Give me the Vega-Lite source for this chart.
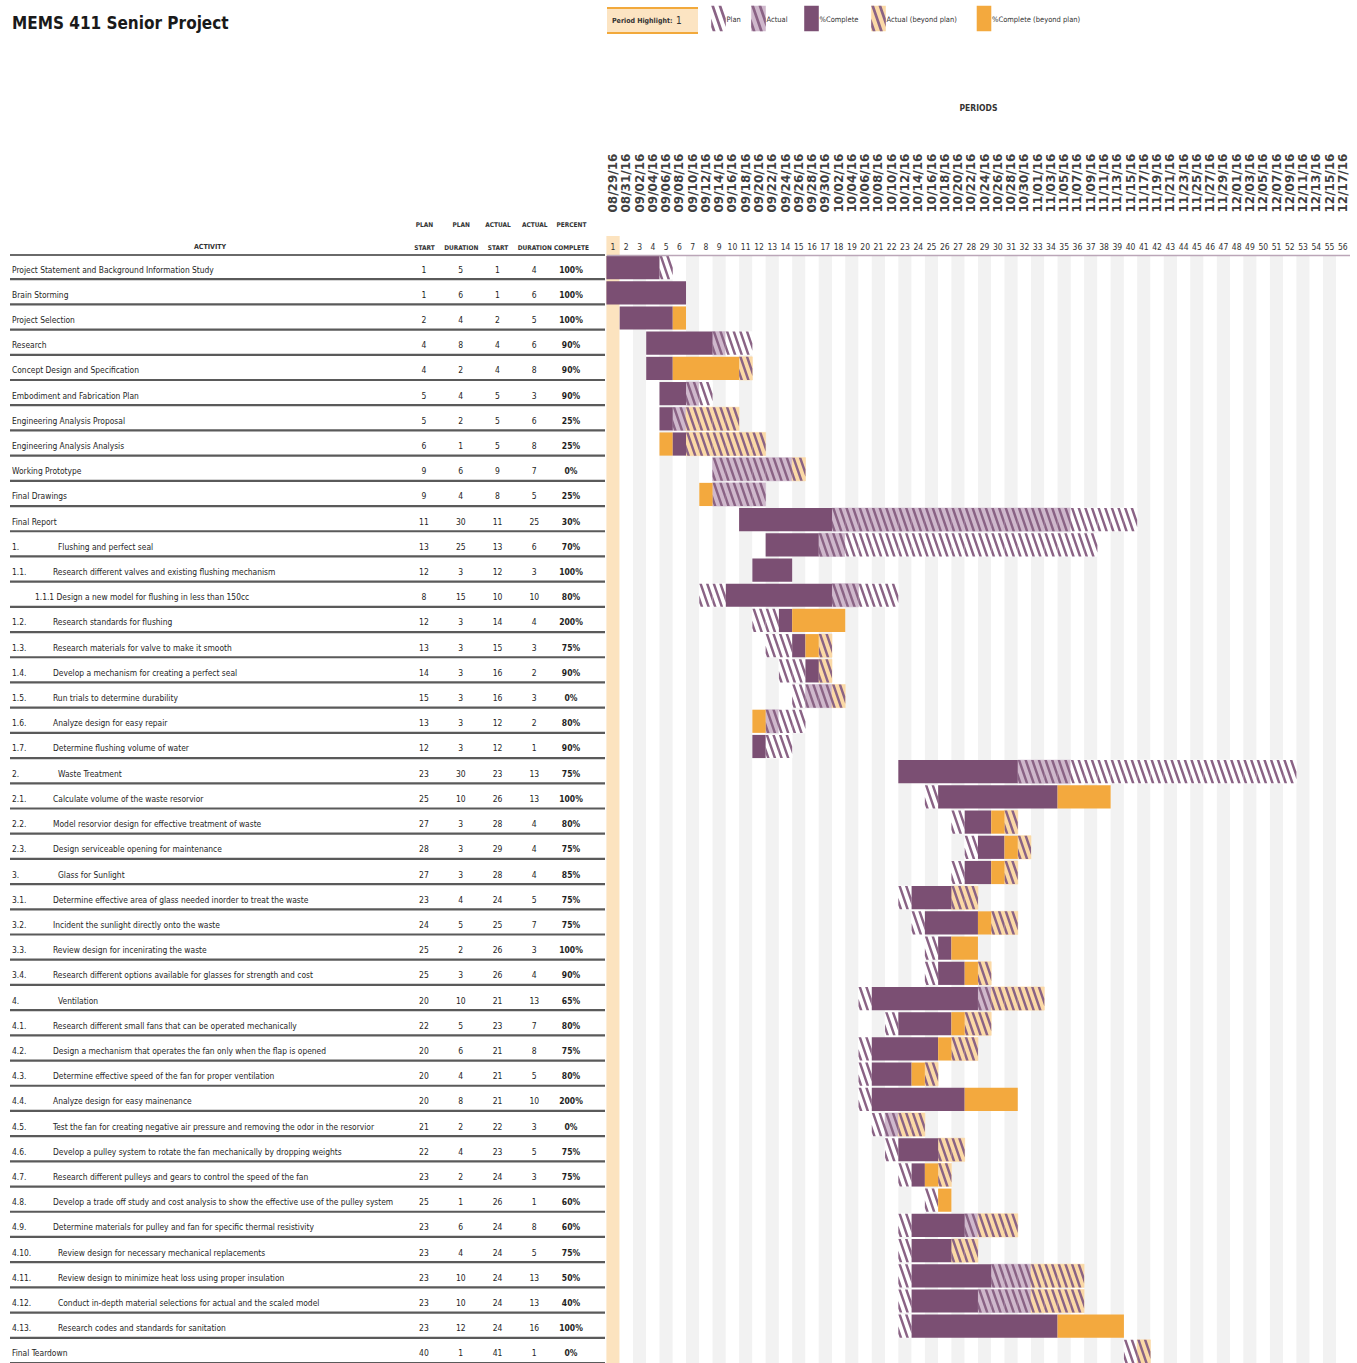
{
"$schema": "https://vega.github.io/schema/vega-lite/v6.json",
"width": 1357, "height": 1108,
"autosize": {"type": "none"},
"padding": {"top": 255, "left": 0, "right": 0, "bottom": 0},
"background": "white",
"config": {"view": {"stroke": null}},
"datasets": {
"info": [{"title": "MEMS 411 Senior Project", "hl": "Period Highlight:", "highlight": 1, "activity": "ACTIVITY"}],
"legend": [
{"o": 1, "label": "Plan", "k": "plan"},
{"o": 2, "label": "Actual", "k": "actual"},
{"o": 3, "label": "%Complete", "k": "complete"},
{"o": 4, "label": "Actual (beyond plan)", "k": "actualBeyond"},
{"o": 5, "label": "%Complete (beyond plan)", "k": "completeBeyond"}],
"periods": [
{"p":1,"date":"08/29/16"},{"p":2,"date":"08/31/16"},{"p":3,"date":"09/02/16"},{"p":4,"date":"09/04/16"},{"p":5,"date":"09/06/16"},{"p":6,"date":"09/08/16"},{"p":7,"date":"09/10/16"},{"p":8,"date":"09/12/16"},{"p":9,"date":"09/14/16"},{"p":10,"date":"09/16/16"},{"p":11,"date":"09/18/16"},{"p":12,"date":"09/20/16"},{"p":13,"date":"09/22/16"},{"p":14,"date":"09/24/16"},{"p":15,"date":"09/26/16"},{"p":16,"date":"09/28/16"},{"p":17,"date":"09/30/16"},{"p":18,"date":"10/02/16"},{"p":19,"date":"10/04/16"},{"p":20,"date":"10/06/16"},{"p":21,"date":"10/08/16"},{"p":22,"date":"10/10/16"},{"p":23,"date":"10/12/16"},{"p":24,"date":"10/14/16"},{"p":25,"date":"10/16/16"},{"p":26,"date":"10/18/16"},{"p":27,"date":"10/20/16"},{"p":28,"date":"10/22/16"},{"p":29,"date":"10/24/16"},{"p":30,"date":"10/26/16"},{"p":31,"date":"10/28/16"},{"p":32,"date":"10/30/16"},{"p":33,"date":"11/01/16"},{"p":34,"date":"11/03/16"},{"p":35,"date":"11/05/16"},{"p":36,"date":"11/07/16"},{"p":37,"date":"11/09/16"},{"p":38,"date":"11/11/16"},{"p":39,"date":"11/13/16"},{"p":40,"date":"11/15/16"},{"p":41,"date":"11/17/16"},{"p":42,"date":"11/19/16"},{"p":43,"date":"11/21/16"},{"p":44,"date":"11/23/16"},{"p":45,"date":"11/25/16"},{"p":46,"date":"11/27/16"},{"p":47,"date":"11/29/16"},{"p":48,"date":"12/01/16"},{"p":49,"date":"12/03/16"},{"p":50,"date":"12/05/16"},{"p":51,"date":"12/07/16"},{"p":52,"date":"12/09/16"},{"p":53,"date":"12/11/16"},{"p":54,"date":"12/13/16"},{"p":55,"date":"12/15/16"},{"p":56,"date":"12/17/16"}],
"tasks": [
{"i":1,"num":"","name":"Project Statement and Background Information Study","ps":1,"pd":5,"ast":1,"adur":4,"pct":1},
{"i":2,"num":"","name":"Brain Storming","ps":1,"pd":6,"ast":1,"adur":6,"pct":1},
{"i":3,"num":"","name":"Project Selection","ps":2,"pd":4,"ast":2,"adur":5,"pct":1},
{"i":4,"num":"","name":"Research","ps":4,"pd":8,"ast":4,"adur":6,"pct":0.9},
{"i":5,"num":"","name":"Concept Design and Specification","ps":4,"pd":2,"ast":4,"adur":8,"pct":0.9},
{"i":6,"num":"","name":"Embodiment and Fabrication Plan","ps":5,"pd":4,"ast":5,"adur":3,"pct":0.9},
{"i":7,"num":"","name":"Engineering Analysis Proposal","ps":5,"pd":2,"ast":5,"adur":6,"pct":0.25},
{"i":8,"num":"","name":"Engineering Analysis Analysis","ps":6,"pd":1,"ast":5,"adur":8,"pct":0.25},
{"i":9,"num":"","name":"Working Prototype","ps":9,"pd":6,"ast":9,"adur":7,"pct":0},
{"i":10,"num":"","name":"Final Drawings","ps":9,"pd":4,"ast":8,"adur":5,"pct":0.25},
{"i":11,"num":"","name":"Final Report","ps":11,"pd":30,"ast":11,"adur":25,"pct":0.3},
{"i":12,"num":"1.","name":"Flushing and perfect seal","ps":13,"pd":25,"ast":13,"adur":6,"pct":0.7},
{"i":13,"num":"1.1.","name":"Research different valves and existing flushing mechanism","ps":12,"pd":3,"ast":12,"adur":3,"pct":1},
{"i":14,"num":"","name":"1.1.1 Design a new model for flushing in less than 150cc","ps":8,"pd":15,"ast":10,"adur":10,"pct":0.8},
{"i":15,"num":"1.2.","name":"Research standards for flushing","ps":12,"pd":3,"ast":14,"adur":4,"pct":2},
{"i":16,"num":"1.3.","name":"Research materials for valve to make it smooth","ps":13,"pd":3,"ast":15,"adur":3,"pct":0.75},
{"i":17,"num":"1.4.","name":"Develop a mechanism for creating a perfect seal","ps":14,"pd":3,"ast":16,"adur":2,"pct":0.9},
{"i":18,"num":"1.5.","name":"Run trials to determine durability","ps":15,"pd":3,"ast":16,"adur":3,"pct":0},
{"i":19,"num":"1.6.","name":"Analyze design for easy repair","ps":13,"pd":3,"ast":12,"adur":2,"pct":0.8},
{"i":20,"num":"1.7.","name":"Determine flushing volume of water","ps":12,"pd":3,"ast":12,"adur":1,"pct":0.9},
{"i":21,"num":"2.","name":"Waste Treatment","ps":23,"pd":30,"ast":23,"adur":13,"pct":0.75},
{"i":22,"num":"2.1.","name":"Calculate  volume of the waste resorvior","ps":25,"pd":10,"ast":26,"adur":13,"pct":1},
{"i":23,"num":"2.2.","name":"Model resorvior design for effective treatment of waste","ps":27,"pd":3,"ast":28,"adur":4,"pct":0.8},
{"i":24,"num":"2.3.","name":"Design serviceable opening for maintenance","ps":28,"pd":3,"ast":29,"adur":4,"pct":0.75},
{"i":25,"num":"3.","name":"Glass for Sunlight","ps":27,"pd":3,"ast":28,"adur":4,"pct":0.85},
{"i":26,"num":"3.1.","name":"Determine effective area of glass needed inorder to treat the waste","ps":23,"pd":4,"ast":24,"adur":5,"pct":0.75},
{"i":27,"num":"3.2.","name":"Incident the sunlight directly onto the waste","ps":24,"pd":5,"ast":25,"adur":7,"pct":0.75},
{"i":28,"num":"3.3.","name":"Review design for incenirating the waste","ps":25,"pd":2,"ast":26,"adur":3,"pct":1},
{"i":29,"num":"3.4.","name":"Research different options available for glasses for strength and cost","ps":25,"pd":3,"ast":26,"adur":4,"pct":0.9},
{"i":30,"num":"4.","name":"Ventilation","ps":20,"pd":10,"ast":21,"adur":13,"pct":0.65},
{"i":31,"num":"4.1.","name":"Research different small fans that can be operated mechanically","ps":22,"pd":5,"ast":23,"adur":7,"pct":0.8},
{"i":32,"num":"4.2.","name":"Design a mechanism that operates the fan only when the flap is opened","ps":20,"pd":6,"ast":21,"adur":8,"pct":0.75},
{"i":33,"num":"4.3.","name":"Determine effective speed of the fan for proper ventilation","ps":20,"pd":4,"ast":21,"adur":5,"pct":0.8},
{"i":34,"num":"4.4.","name":"Analyze design for easy mainenance","ps":20,"pd":8,"ast":21,"adur":10,"pct":2},
{"i":35,"num":"4.5.","name":"Test the fan for creating negative air pressure and removing the odor in the resorvior","ps":21,"pd":2,"ast":22,"adur":3,"pct":0},
{"i":36,"num":"4.6.","name":"Develop a pulley system to rotate the fan mechanically by dropping weights","ps":22,"pd":4,"ast":23,"adur":5,"pct":0.75},
{"i":37,"num":"4.7.","name":"Research different pulleys and gears to control the speed of the fan","ps":23,"pd":2,"ast":24,"adur":3,"pct":0.75},
{"i":38,"num":"4.8.","name":"Develop a trade off study and cost analysis to show the effective use of the pulley system","ps":25,"pd":1,"ast":26,"adur":1,"pct":0.6},
{"i":39,"num":"4.9.","name":"Determine materials for pulley and fan for specific thermal resistivity","ps":23,"pd":6,"ast":24,"adur":8,"pct":0.6},
{"i":40,"num":"4.10.","name":"Review design for necessary mechanical replacements","ps":23,"pd":4,"ast":24,"adur":5,"pct":0.75},
{"i":41,"num":"4.11.","name":"Review design to minimize heat loss using proper insulation","ps":23,"pd":10,"ast":24,"adur":13,"pct":0.5},
{"i":42,"num":"4.12.","name":"Conduct in-depth material selections for actual and the scaled model","ps":23,"pd":10,"ast":24,"adur":13,"pct":0.4},
{"i":43,"num":"4.13.","name":"Research codes and standards for sanitation","ps":23,"pd":12,"ast":24,"adur":16,"pct":1},
{"i":44,"num":"","name":"Final Teardown","ps":40,"pd":1,"ast":41,"adur":1,"pct":0}],
"solid": [
{"i":1,"k":"complete","s":1,"e":5},
{"i":2,"k":"complete","s":1,"e":7},
{"i":3,"k":"complete","s":2,"e":6},{"i":3,"k":"completeBeyond","s":6,"e":7},
{"i":4,"k":"complete","s":4,"e":9},
{"i":5,"k":"complete","s":4,"e":6},{"i":5,"k":"completeBeyond","s":6,"e":11},
{"i":6,"k":"complete","s":5,"e":7},
{"i":7,"k":"complete","s":5,"e":6},
{"i":8,"k":"completeBeyond","s":5,"e":6},{"i":8,"k":"complete","s":6,"e":7},
{"i":10,"k":"completeBeyond","s":8,"e":9},
{"i":11,"k":"complete","s":11,"e":18},
{"i":12,"k":"complete","s":13,"e":17},
{"i":13,"k":"complete","s":12,"e":15},
{"i":14,"k":"complete","s":10,"e":18},
{"i":15,"k":"complete","s":14,"e":15},{"i":15,"k":"completeBeyond","s":15,"e":19},
{"i":16,"k":"complete","s":15,"e":16},{"i":16,"k":"completeBeyond","s":16,"e":17},
{"i":17,"k":"complete","s":16,"e":17},
{"i":19,"k":"completeBeyond","s":12,"e":13},
{"i":20,"k":"complete","s":12,"e":13},
{"i":21,"k":"complete","s":23,"e":32},
{"i":22,"k":"complete","s":26,"e":35},{"i":22,"k":"completeBeyond","s":35,"e":39},
{"i":23,"k":"complete","s":28,"e":30},{"i":23,"k":"completeBeyond","s":30,"e":31},
{"i":24,"k":"complete","s":29,"e":31},{"i":24,"k":"completeBeyond","s":31,"e":32},
{"i":25,"k":"complete","s":28,"e":30},{"i":25,"k":"completeBeyond","s":30,"e":31},
{"i":26,"k":"complete","s":24,"e":27},
{"i":27,"k":"complete","s":25,"e":29},{"i":27,"k":"completeBeyond","s":29,"e":30},
{"i":28,"k":"complete","s":26,"e":27},{"i":28,"k":"completeBeyond","s":27,"e":29},
{"i":29,"k":"complete","s":26,"e":28},{"i":29,"k":"completeBeyond","s":28,"e":29},
{"i":30,"k":"complete","s":21,"e":29},
{"i":31,"k":"complete","s":23,"e":27},{"i":31,"k":"completeBeyond","s":27,"e":28},
{"i":32,"k":"complete","s":21,"e":26},{"i":32,"k":"completeBeyond","s":26,"e":27},
{"i":33,"k":"complete","s":21,"e":24},{"i":33,"k":"completeBeyond","s":24,"e":25},
{"i":34,"k":"complete","s":21,"e":28},{"i":34,"k":"completeBeyond","s":28,"e":32},
{"i":36,"k":"complete","s":23,"e":26},
{"i":37,"k":"complete","s":24,"e":25},{"i":37,"k":"completeBeyond","s":25,"e":26},
{"i":38,"k":"completeBeyond","s":26,"e":27},
{"i":39,"k":"complete","s":24,"e":28},
{"i":40,"k":"complete","s":24,"e":27},
{"i":41,"k":"complete","s":24,"e":30},
{"i":42,"k":"complete","s":24,"e":29},
{"i":43,"k":"complete","s":24,"e":35},{"i":43,"k":"completeBeyond","s":35,"e":40}],
"hatch": [
{"i":1,"k":"plan","p":[5]},
{"i":4,"k":"actual","p":[9]},{"i":4,"k":"plan","p":[10,11]},
{"i":5,"k":"actualBeyond","p":[11]},
{"i":6,"k":"actual","p":[7]},{"i":6,"k":"plan","p":[8]},
{"i":7,"k":"actual","p":[6]},{"i":7,"k":"actualBeyond","p":[7,8,9,10]},
{"i":8,"k":"actualBeyond","p":[7,8,9,10,11,12]},
{"i":9,"k":"actual","p":[9,10,11,12,13,14]},{"i":9,"k":"actualBeyond","p":[15]},
{"i":10,"k":"actual","p":[9,10,11,12]},
{"i":11,"k":"actual","p":[18,19,20,21,22,23,24,25,26,27,28,29,30,31,32,33,34,35]},{"i":11,"k":"plan","p":[36,37,38,39,40]},
{"i":12,"k":"actual","p":[17,18]},{"i":12,"k":"plan","p":[19,20,21,22,23,24,25,26,27,28,29,30,31,32,33,34,35,36,37]},
{"i":14,"k":"plan","p":[8,9,20,21,22]},{"i":14,"k":"actual","p":[18,19]},
{"i":15,"k":"plan","p":[12,13]},
{"i":16,"k":"plan","p":[13,14]},{"i":16,"k":"actualBeyond","p":[17]},
{"i":17,"k":"plan","p":[14,15]},{"i":17,"k":"actualBeyond","p":[17]},
{"i":18,"k":"plan","p":[15]},{"i":18,"k":"actual","p":[16,17]},{"i":18,"k":"actualBeyond","p":[18]},
{"i":19,"k":"actual","p":[13]},{"i":19,"k":"plan","p":[14,15]},
{"i":20,"k":"plan","p":[13,14]},
{"i":21,"k":"actual","p":[32,33,34,35]},{"i":21,"k":"plan","p":[36,37,38,39,40,41,42,43,44,45,46,47,48,49,50,51,52]},
{"i":22,"k":"plan","p":[25]},
{"i":23,"k":"plan","p":[27]},{"i":23,"k":"actualBeyond","p":[31]},
{"i":24,"k":"plan","p":[28]},{"i":24,"k":"actualBeyond","p":[32]},
{"i":25,"k":"plan","p":[27]},{"i":25,"k":"actualBeyond","p":[31]},
{"i":26,"k":"plan","p":[23]},{"i":26,"k":"actualBeyond","p":[27,28]},
{"i":27,"k":"plan","p":[24]},{"i":27,"k":"actualBeyond","p":[30,31]},
{"i":28,"k":"plan","p":[25]},
{"i":29,"k":"plan","p":[25]},{"i":29,"k":"actualBeyond","p":[29]},
{"i":30,"k":"plan","p":[20]},{"i":30,"k":"actual","p":[29]},{"i":30,"k":"actualBeyond","p":[30,31,32,33]},
{"i":31,"k":"plan","p":[22]},{"i":31,"k":"actualBeyond","p":[28,29]},
{"i":32,"k":"plan","p":[20]},{"i":32,"k":"actualBeyond","p":[27,28]},
{"i":33,"k":"plan","p":[20]},{"i":33,"k":"actualBeyond","p":[25]},
{"i":34,"k":"plan","p":[20]},
{"i":35,"k":"plan","p":[21]},{"i":35,"k":"actual","p":[22]},{"i":35,"k":"actualBeyond","p":[23,24]},
{"i":36,"k":"plan","p":[22]},{"i":36,"k":"actualBeyond","p":[26,27]},
{"i":37,"k":"plan","p":[23]},{"i":37,"k":"actualBeyond","p":[26]},
{"i":38,"k":"plan","p":[25]},
{"i":39,"k":"plan","p":[23]},{"i":39,"k":"actual","p":[28]},{"i":39,"k":"actualBeyond","p":[29,30,31]},
{"i":40,"k":"plan","p":[23]},{"i":40,"k":"actualBeyond","p":[27,28]},
{"i":41,"k":"plan","p":[23]},{"i":41,"k":"actual","p":[30,31,32]},{"i":41,"k":"actualBeyond","p":[33,34,35,36]},
{"i":42,"k":"plan","p":[23]},{"i":42,"k":"actual","p":[29,30,31,32]},{"i":42,"k":"actualBeyond","p":[33,34,35,36]},
{"i":43,"k":"plan","p":[23]},
{"i":44,"k":"plan","p":[40]},{"i":44,"k":"actualBeyond","p":[41]}]
},
"resolve": {"scale": {"x": "independent", "y": "independent", "color": "independent", "stroke": "independent"}},
"layer": [
{
"data": {"name": "periods"},
"mark": {"type": "rect"},
"encoding": {
"x": {"field": "p", "type": "ordinal", "scale": {"range": [606.4, 1349.5], "paddingInner": 0, "paddingOuter": 0},
"axis": {"orient": "top", "title": null, "ticks": false, "domain": true, "domainColor": "#bba6b8", "domainWidth": 1.5, "labelAngle": 0, "labelFont": "DejaVu Sans Condensed, DejaVu Sans, sans-serif", "labelFontSize": 8.5, "labelColor": "#333333", "labelPadding": 4, "labelOverlap": false, "zindex": 1}},
"fill": {"condition": [{"test": "datum.p == 1", "value": "#FCE3BF"}, {"test": "datum.p % 2 == 1", "value": "#F2F2F2"}], "value": "#FFFFFF"}
}
},
{
"data": {"name": "periods"},
"mark": {"type": "rect", "opacity": 0},
"encoding": {
"x": {"field": "date", "type": "ordinal", "scale": {"range": [606.4, 1349.5], "paddingInner": 0, "paddingOuter": 0},
"axis": {"orient": "top", "offset": 43, "labelAngle": 270, "labelAlign": "left", "labelBaseline": "middle", "ticks": false, "domain": false, "labelPadding": 0, "labelFont": "DejaVu Sans, sans-serif", "labelFontWeight": "bold", "labelFontSize": 12, "labelColor": "#404040", "labelOverlap": false, "title": "PERIODS", "titleFont": "DejaVu Sans Condensed, DejaVu Sans, sans-serif", "titleFontSize": 8.5, "titleFontWeight": "bold", "titleColor": "#333333", "titleY": -105, "titleBaseline": "middle", "zindex": 1}}
}
},
{
"data": {"name": "info"},
"mark": {"type": "point", "filled": true, "opacity": 1, "shape": "M-0.7,-1L0.7,-1L0.7,1L-0.7,1Z", "size": 361, "color": "#FCE3BF"},
"encoding": {
"x": {"field": "highlight", "type": "quantitative", "scale": {"domain": [0.5, 56.5], "range": [606.4, 1349.5], "nice": false, "zero": false}, "axis": null},
"y": {"datum": 245.5, "type": "quantitative", "scale": {"domain": [0, 1363], "range": [-255, 1108], "nice": false, "zero": false}, "axis": null}
}
},
{
"data": {"name": "hatch"},
"transform": [{"flatten": ["p"]}],
"mark": {"type": "point", "filled": true, "opacity": 1, "shape": "M-0.572,-1L0.572,-1L0.572,1L-0.572,1Z", "size": 538, "strokeWidth": 0.6},
"encoding": {
"x": {"field": "p", "type": "quantitative", "scale": {"domain": [0.5, 56.5], "range": [606.4, 1349.5], "nice": false, "zero": false}, "axis": null},
"y": {"field": "i", "type": "ordinal", "scale": {"domain": [1,2,3,4,5,6,7,8,9,10,11,12,13,14,15,16,17,18,19,20,21,22,23,24,25,26,27,28,29,30,31,32,33,34,35,36,37,38,39,40,41,42,43,44], "range": [0, 1109], "paddingInner": 0.08, "paddingOuter": 0.04}, "axis": null},
"color": {"field": "k", "type": "nominal", "scale": {"domain": ["plan", "actual", "complete", "actualBeyond", "completeBeyond"], "range": ["#FFFFFF", "#CFB8CC", "#7B4F73", "#FBD9A6", "#F3A93E"]}, "legend": null},
"stroke": {"field": "k", "type": "nominal", "scale": {"domain": ["plan", "actual", "complete", "actualBeyond", "completeBeyond"], "range": ["#FFFFFF", "#CFB8CC", "#7B4F73", "#FBD9A6", "#F3A93E"]}, "legend": null}
}
},
{
"data": {"name": "hatch"},
"transform": [{"flatten": ["p"]}],
"mark": {"type": "point", "filled": true, "opacity": 1, "strokeWidth": 0, "color": "#8A6385", "shape": "M-0.572,0.009L-0.23,1L-0.454,1L-0.572,0.658Z M-0.572,-1L-0.348,-1L0.342,1L0.118,1Z M0,-1L0.224,-1L0.572,0.009L0.572,0.658Z", "size": 538},
"encoding": {
"x": {"field": "p", "type": "quantitative", "scale": {"domain": [0.5, 56.5], "range": [606.4, 1349.5], "nice": false, "zero": false}, "axis": null},
"y": {"field": "i", "type": "ordinal", "scale": {"domain": [1,2,3,4,5,6,7,8,9,10,11,12,13,14,15,16,17,18,19,20,21,22,23,24,25,26,27,28,29,30,31,32,33,34,35,36,37,38,39,40,41,42,43,44], "range": [0, 1109], "paddingInner": 0.08, "paddingOuter": 0.04}, "axis": null}
}
},
{
"data": {"name": "solid"},
"mark": {"type": "rect"},
"encoding": {
"x": {"field": "s", "type": "quantitative", "scale": {"domain": [1, 57], "range": [606.4, 1349.5], "nice": false, "zero": false}, "axis": null},
"x2": {"field": "e"},
"y": {"field": "i", "type": "ordinal", "scale": {"domain": [1,2,3,4,5,6,7,8,9,10,11,12,13,14,15,16,17,18,19,20,21,22,23,24,25,26,27,28,29,30,31,32,33,34,35,36,37,38,39,40,41,42,43,44], "range": [0, 1109], "paddingInner": 0.08, "paddingOuter": 0.04}, "axis": null},
"color": {"field": "k", "type": "nominal", "scale": {"domain": ["plan", "actual", "complete", "actualBeyond", "completeBeyond"], "range": ["#FFFFFF", "#CFB8CC", "#7B4F73", "#FBD9A6", "#F3A93E"]}, "legend": null}
}
},
{
"data": {"name": "tasks"},
"mark": {"type": "rule", "color": "#5a5a5a", "strokeWidth": 2.2},
"encoding": {
"x": {"datum": 10, "type": "quantitative", "scale": {"domain": [0, 1357], "range": [0, 1357], "nice": false, "zero": false}, "axis": null},
"x2": {"datum": 605},
"y": {"field": "i", "type": "ordinal", "bandPosition": 1, "scale": {"domain": [1,2,3,4,5,6,7,8,9,10,11,12,13,14,15,16,17,18,19,20,21,22,23,24,25,26,27,28,29,30,31,32,33,34,35,36,37,38,39,40,41,42,43,44], "range": [0, 1109], "paddingInner": 0.08, "paddingOuter": 0.04}, "axis": null}
}
},
{
"data": {"name": "tasks"},
"transform": [{"fold": ["ps", "pd", "ast", "adur"], "as": ["key", "value"]}],
"mark": {"type": "text", "font": "DejaVu Sans Condensed, DejaVu Sans, sans-serif", "fontSize": 8.5, "dy": 2, "color": "#1e1e1e"},
"encoding": {
"x": {"field": "key", "type": "nominal", "scale": {"domain": ["ps", "pd", "ast", "adur", "pct"], "range": [405.6, 589.4], "paddingInner": 0, "paddingOuter": 0},
"axis": {"orient": "top", "title": null, "ticks": false, "domain": false, "labelAngle": 0, "labelPadding": 28, "labelFont": "DejaVu Sans Condensed, DejaVu Sans, sans-serif", "labelFontSize": 6.5, "labelFontWeight": "bold", "labelColor": "#333333", "labelLineHeight": 23, "labelOverlap": false, "labelBound": false, "zindex": 1,
"labelExpr": "datum.value == 'ps' ? ['PLAN','START'] : datum.value == 'pd' ? ['PLAN','DURATION'] : datum.value == 'ast' ? ['ACTUAL','START'] : datum.value == 'adur' ? ['ACTUAL','DURATION'] : ['PERCENT','COMPLETE']"}},
"y": {"field": "i", "type": "ordinal", "scale": {"domain": [1,2,3,4,5,6,7,8,9,10,11,12,13,14,15,16,17,18,19,20,21,22,23,24,25,26,27,28,29,30,31,32,33,34,35,36,37,38,39,40,41,42,43,44], "range": [0, 1109], "paddingInner": 0.08, "paddingOuter": 0.04}, "axis": null},
"text": {"field": "value", "type": "quantitative"}
}
},
{
"data": {"name": "tasks"},
"mark": {"type": "text", "font": "DejaVu Sans Condensed, DejaVu Sans, sans-serif", "fontSize": 8.5, "fontWeight": "bold", "dy": 2, "color": "#1e1e1e"},
"encoding": {
"x": {"datum": "pct", "type": "nominal", "scale": {"domain": ["ps", "pd", "ast", "adur", "pct"], "range": [405.6, 589.4], "paddingInner": 0, "paddingOuter": 0}, "axis": null},
"y": {"field": "i", "type": "ordinal", "scale": {"domain": [1,2,3,4,5,6,7,8,9,10,11,12,13,14,15,16,17,18,19,20,21,22,23,24,25,26,27,28,29,30,31,32,33,34,35,36,37,38,39,40,41,42,43,44], "range": [0, 1109], "paddingInner": 0.08, "paddingOuter": 0.04}, "axis": null},
"text": {"field": "pct", "type": "quantitative", "format": ".0%"}
}
},
{
"data": {"name": "tasks"},
"transform": [{"filter": "datum.num == '' && indexof(datum.name, '1.1.1') != 0"}],
"mark": {"type": "text", "align": "left", "font": "DejaVu Sans Condensed, DejaVu Sans, sans-serif", "fontSize": 8.4, "dy": 2, "color": "#1e1e1e"},
"encoding": {
"x": {"datum": 12, "type": "quantitative", "scale": {"domain": [0, 1357], "range": [0, 1357], "nice": false, "zero": false}, "axis": null},
"y": {"field": "i", "type": "ordinal", "scale": {"domain": [1,2,3,4,5,6,7,8,9,10,11,12,13,14,15,16,17,18,19,20,21,22,23,24,25,26,27,28,29,30,31,32,33,34,35,36,37,38,39,40,41,42,43,44], "range": [0, 1109], "paddingInner": 0.08, "paddingOuter": 0.04}, "axis": null},
"text": {"field": "name", "type": "nominal"}
}
},
{
"data": {"name": "tasks"},
"transform": [{"filter": "indexof(datum.name, '1.1.1') == 0"}],
"mark": {"type": "text", "align": "left", "font": "DejaVu Sans Condensed, DejaVu Sans, sans-serif", "fontSize": 8.4, "dy": 2, "color": "#1e1e1e"},
"encoding": {
"x": {"datum": 35, "type": "quantitative", "scale": {"domain": [0, 1357], "range": [0, 1357], "nice": false, "zero": false}, "axis": null},
"y": {"field": "i", "type": "ordinal", "scale": {"domain": [1,2,3,4,5,6,7,8,9,10,11,12,13,14,15,16,17,18,19,20,21,22,23,24,25,26,27,28,29,30,31,32,33,34,35,36,37,38,39,40,41,42,43,44], "range": [0, 1109], "paddingInner": 0.08, "paddingOuter": 0.04}, "axis": null},
"text": {"field": "name", "type": "nominal"}
}
},
{
"data": {"name": "tasks"},
"transform": [{"filter": "datum.num != ''"}],
"mark": {"type": "text", "align": "left", "font": "DejaVu Sans Condensed, DejaVu Sans, sans-serif", "fontSize": 8.4, "dy": 2, "color": "#1e1e1e"},
"encoding": {
"x": {"datum": 12, "type": "quantitative", "scale": {"domain": [0, 1357], "range": [0, 1357], "nice": false, "zero": false}, "axis": null},
"y": {"field": "i", "type": "ordinal", "scale": {"domain": [1,2,3,4,5,6,7,8,9,10,11,12,13,14,15,16,17,18,19,20,21,22,23,24,25,26,27,28,29,30,31,32,33,34,35,36,37,38,39,40,41,42,43,44], "range": [0, 1109], "paddingInner": 0.08, "paddingOuter": 0.04}, "axis": null},
"text": {"field": "num", "type": "nominal"}
}
},
{
"data": {"name": "tasks"},
"transform": [{"filter": "length(datum.num) == 4"}],
"mark": {"type": "text", "align": "left", "font": "DejaVu Sans Condensed, DejaVu Sans, sans-serif", "fontSize": 8.4, "dy": 2, "color": "#1e1e1e"},
"encoding": {
"x": {"datum": 53, "type": "quantitative", "scale": {"domain": [0, 1357], "range": [0, 1357], "nice": false, "zero": false}, "axis": null},
"y": {"field": "i", "type": "ordinal", "scale": {"domain": [1,2,3,4,5,6,7,8,9,10,11,12,13,14,15,16,17,18,19,20,21,22,23,24,25,26,27,28,29,30,31,32,33,34,35,36,37,38,39,40,41,42,43,44], "range": [0, 1109], "paddingInner": 0.08, "paddingOuter": 0.04}, "axis": null},
"text": {"field": "name", "type": "nominal"}
}
},
{
"data": {"name": "tasks"},
"transform": [{"filter": "datum.num != '' && length(datum.num) != 4"}],
"mark": {"type": "text", "align": "left", "font": "DejaVu Sans Condensed, DejaVu Sans, sans-serif", "fontSize": 8.4, "dy": 2, "color": "#1e1e1e"},
"encoding": {
"x": {"datum": 58, "type": "quantitative", "scale": {"domain": [0, 1357], "range": [0, 1357], "nice": false, "zero": false}, "axis": null},
"y": {"field": "i", "type": "ordinal", "scale": {"domain": [1,2,3,4,5,6,7,8,9,10,11,12,13,14,15,16,17,18,19,20,21,22,23,24,25,26,27,28,29,30,31,32,33,34,35,36,37,38,39,40,41,42,43,44], "range": [0, 1109], "paddingInner": 0.08, "paddingOuter": 0.04}, "axis": null},
"text": {"field": "name", "type": "nominal"}
}
},
{
"data": {"name": "info"},
"layer": [
{"mark": {"type": "rule", "color": "#6a6a6a", "strokeWidth": 2},
"encoding": {"x": {"datum": 10}, "x2": {"datum": 605}, "y": {"datum": 255}}},
{"mark": {"type": "text", "font": "DejaVu Sans Condensed, DejaVu Sans, sans-serif", "fontSize": 7, "fontWeight": "bold", "color": "#333333"},
"encoding": {"x": {"datum": 210}, "y": {"datum": 247}, "text": {"field": "activity"}}},
{"mark": {"type": "text", "align": "left", "baseline": "middle", "font": "DejaVu Sans Condensed, DejaVu Sans, sans-serif", "fontSize": 17, "fontWeight": "bold", "color": "#1a1a1a"},
"encoding": {"x": {"datum": 12}, "y": {"datum": 24}, "text": {"field": "title"}}},
{"mark": {"type": "rect", "color": "#FCE4C2"},
"encoding": {"x": {"datum": 607}, "x2": {"datum": 698}, "y": {"datum": 8}, "y2": {"datum": 33}}},
{"mark": {"type": "rule", "color": "#F2A93B", "strokeWidth": 2},
"encoding": {"x": {"datum": 607}, "x2": {"datum": 698}, "y": {"datum": 8}}},
{"mark": {"type": "rule", "color": "#F2A93B", "strokeWidth": 2},
"encoding": {"x": {"datum": 607}, "x2": {"datum": 698}, "y": {"datum": 33}}},
{"mark": {"type": "text", "align": "left", "baseline": "middle", "font": "DejaVu Sans Condensed, DejaVu Sans, sans-serif", "fontSize": 7, "fontWeight": "bold", "color": "#333333"},
"encoding": {"x": {"datum": 612}, "y": {"datum": 20.5}, "text": {"field": "hl"}}},
{"mark": {"type": "text", "align": "left", "baseline": "middle", "font": "DejaVu Sans Condensed, DejaVu Sans, sans-serif", "fontSize": 10, "color": "#333333"},
"encoding": {"x": {"datum": 676}, "y": {"datum": 21}, "text": {"field": "highlight"}}}
],
"encoding": {
"x": {"type": "quantitative", "scale": {"domain": [0, 1357], "range": [0, 1357], "nice": false, "zero": false}, "axis": null},
"y": {"type": "quantitative", "scale": {"domain": [0, 1363], "range": [-255, 1108], "nice": false, "zero": false}, "axis": null}
}
},
{
"data": {"name": "legend"},
"mark": {"type": "point", "filled": true, "opacity": 1, "shape": "M-0.572,-1L0.572,-1L0.572,1L-0.572,1Z", "size": 650},
"encoding": {
"x": {"field": "o", "type": "quantitative", "scale": {"domain": [1, 2, 3, 4, 5], "range": [718.5, 758.5, 811.5, 878.5, 984], "nice": false, "zero": false}, "axis": null},
"y": {"datum": 18.5, "type": "quantitative", "scale": {"domain": [0, 1363], "range": [-255, 1108], "nice": false, "zero": false}, "axis": null},
"color": {"field": "k", "type": "nominal", "scale": {"domain": ["plan", "actual", "complete", "actualBeyond", "completeBeyond"], "range": ["#FFFFFF", "#CFB8CC", "#7B4F73", "#FBD9A6", "#F3A93E"]}, "legend": null}
}
},
{
"data": {"name": "legend"},
"transform": [{"filter": "datum.k == 'plan' || datum.k == 'actual' || datum.k == 'actualBeyond'"}],
"mark": {"type": "point", "filled": true, "opacity": 1, "strokeWidth": 0, "color": "#8A6385", "shape": "M-0.572,0.009L-0.23,1L-0.454,1L-0.572,0.658Z M-0.572,-1L-0.348,-1L0.342,1L0.118,1Z M0,-1L0.224,-1L0.572,0.009L0.572,0.658Z", "size": 650},
"encoding": {
"x": {"field": "o", "type": "quantitative", "scale": {"domain": [1, 2, 3, 4, 5], "range": [718.5, 758.5, 811.5, 878.5, 984], "nice": false, "zero": false}, "axis": null},
"y": {"datum": 18.5, "type": "quantitative", "scale": {"domain": [0, 1363], "range": [-255, 1108], "nice": false, "zero": false}, "axis": null}
}
},
{
"data": {"name": "legend"},
"mark": {"type": "text", "align": "left", "baseline": "middle", "dx": 8, "font": "DejaVu Sans Condensed, DejaVu Sans, sans-serif", "fontSize": 7.5, "color": "#333333"},
"encoding": {
"x": {"field": "o", "type": "quantitative", "scale": {"domain": [1, 2, 3, 4, 5], "range": [718.5, 758.5, 811.5, 878.5, 984], "nice": false, "zero": false}, "axis": null},
"y": {"datum": 20, "type": "quantitative", "scale": {"domain": [0, 1363], "range": [-255, 1108], "nice": false, "zero": false}, "axis": null},
"text": {"field": "label", "type": "nominal"}
}
}
]
}
